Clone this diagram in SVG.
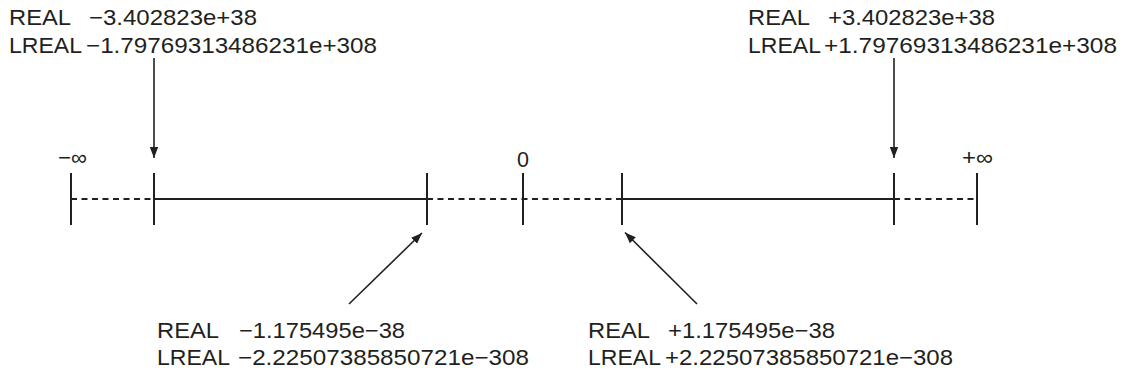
<svg xmlns="http://www.w3.org/2000/svg" width="1126" height="376" viewBox="0 0 1126 376">
<style>
text{font-family:"Liberation Sans",Arial,sans-serif;font-size:21.5px;fill:#231f20}
.ax{stroke:#231f20;stroke-width:2;fill:none}
.dash{stroke-dasharray:6 4.5}
.tick{stroke:#231f20;stroke-width:2}
.arr{stroke:#231f20;stroke-width:1.6;fill:none;marker-end:url(#ah)}
</style>
<defs>
<marker id="ah" markerUnits="userSpaceOnUse" markerWidth="12" markerHeight="10" viewBox="0 0 12 10" refX="11" refY="5" orient="auto">
<path d="M0,0.8 L11,5 L0,9.2 Z" fill="#231f20"/>
</marker>
</defs>
<rect width="1126" height="376" fill="#ffffff"/>
<g id="axis">
<line class="ax dash" x1="71" y1="199" x2="154" y2="199"/>
<line class="ax" x1="154" y1="199" x2="427" y2="199"/>
<line class="ax dash" x1="427" y1="199" x2="622" y2="199"/>
<line class="ax" x1="622" y1="199" x2="894" y2="199"/>
<line class="ax dash" x1="894" y1="199" x2="977" y2="199"/>
</g>
<g id="tick-neg-inf"><line class="tick" x1="71" y1="173" x2="71" y2="225"/><text x="58" y="165" textLength="29" lengthAdjust="spacingAndGlyphs">−∞</text></g>
<g id="tick-neg-max"><line class="tick" x1="154" y1="173" x2="154" y2="225"/></g>
<g id="tick-neg-min"><line class="tick" x1="427" y1="173" x2="427" y2="225"/></g>
<g id="tick-zero"><line class="tick" x1="523" y1="173" x2="523" y2="225"/><text x="523" y="167" text-anchor="middle">0</text></g>
<g id="tick-pos-min"><line class="tick" x1="622" y1="173" x2="622" y2="225"/></g>
<g id="tick-pos-max"><line class="tick" x1="894" y1="173" x2="894" y2="225"/></g>
<g id="tick-pos-inf"><line class="tick" x1="977" y1="173" x2="977" y2="225"/><text x="962" y="165" textLength="31" lengthAdjust="spacingAndGlyphs">+∞</text></g>
<g id="label-neg-max">
<text x="9" y="25" textLength="62" lengthAdjust="spacingAndGlyphs">REAL</text>
<text x="89" y="25" textLength="168" lengthAdjust="spacingAndGlyphs">−3.402823e+38</text>
<text x="9" y="53" textLength="73" lengthAdjust="spacingAndGlyphs">LREAL</text>
<text x="86" y="53" textLength="291" lengthAdjust="spacingAndGlyphs">−1.79769313486231e+308</text>
</g>
<g id="label-pos-max">
<text x="748" y="25" textLength="62" lengthAdjust="spacingAndGlyphs">REAL</text>
<text x="828" y="25" textLength="167" lengthAdjust="spacingAndGlyphs">+3.402823e+38</text>
<text x="748" y="53" textLength="73" lengthAdjust="spacingAndGlyphs">LREAL</text>
<text x="824" y="53" textLength="293" lengthAdjust="spacingAndGlyphs">+1.79769313486231e+308</text>
</g>
<g id="label-neg-min">
<text x="157" y="338" textLength="62" lengthAdjust="spacingAndGlyphs">REAL</text>
<text x="239" y="338" textLength="166" lengthAdjust="spacingAndGlyphs">−1.175495e−38</text>
<text x="157" y="365" textLength="73" lengthAdjust="spacingAndGlyphs">LREAL</text>
<text x="238" y="365" textLength="291" lengthAdjust="spacingAndGlyphs">−2.22507385850721e−308</text>
</g>
<g id="label-pos-min">
<text x="588" y="338" textLength="62" lengthAdjust="spacingAndGlyphs">REAL</text>
<text x="668" y="338" textLength="167" lengthAdjust="spacingAndGlyphs">+1.175495e−38</text>
<text x="588" y="365" textLength="73" lengthAdjust="spacingAndGlyphs">LREAL</text>
<text x="665" y="365" textLength="288" lengthAdjust="spacingAndGlyphs">+2.22507385850721e−308</text>
</g>
<g id="connectors">
<line class="arr" x1="154" y1="58" x2="154" y2="158"/>
<line class="arr" x1="894" y1="58" x2="894" y2="158"/>
<line class="arr" x1="349" y1="304" x2="422" y2="233"/>
<line class="arr" x1="697" y1="304" x2="625" y2="232.5"/>
</g>
</svg>
